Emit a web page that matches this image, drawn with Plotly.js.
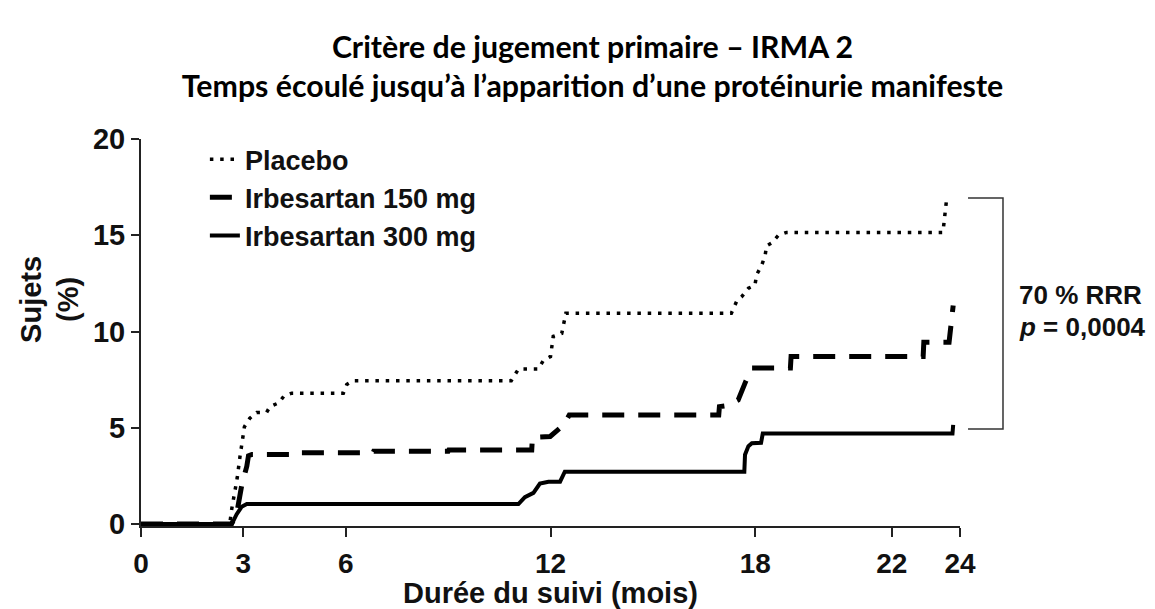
<!DOCTYPE html>
<html>
<head>
<meta charset="utf-8">
<script src="https://cdn.plot.ly/plotly-3.0.1.min.js"></script>
<style>
  html, body { margin: 0; padding: 0; background: #fff; }
  #chart { width: 1155px; height: 609px; }
</style>
</head>
<body>
<div id="chart"></div>
<script>
// ---- Data (months, % of subjects) ----
const seriesNames = ["Placebo", "Irbesartan 150 mg", "Irbesartan 300 mg"];

const placeboMonths = [0, 2.6, 2.66, 2.82, 2.9, 2.98, 3.03, 3.19, 3.39, 3.68, 3.78, 4.04, 4.19, 4.42, 5.93, 6.03, 6.22,
  10.85, 11.0, 11.06, 11.64, 11.79, 12.0, 12.03, 12.08, 12.33, 12.4, 12.45,
  17.3, 17.45, 17.6, 17.8, 17.99, 18.04, 18.19, 18.29, 18.33, 18.48, 18.68, 18.92, 23.5, 23.53, 23.6];
const placeboPct = [0, 0, 0.8, 2.4, 3.5, 4.5, 5.05, 5.5, 5.8, 5.8, 6.1, 6.3, 6.65, 6.8, 6.8, 7.25, 7.45,
  7.45, 7.9, 8.05, 8.05, 8.5, 8.7, 9.2, 9.75, 9.9, 10.45, 10.95,
  10.95, 11.55, 11.8, 12.25, 12.4, 12.95, 13.45, 13.95, 14.45, 14.6, 15.0, 15.15, 15.15, 15.7, 16.75];

const irb150Months = [0, 2.65, 2.8, 2.95, 3.1, 3.15, 3.25, 4.5, 4.52, 6.8, 6.82, 9.0, 9.02, 11.45, 11.47, 11.99, 12.38, 12.55,
  16.93, 16.95, 17.15, 17.5, 17.73, 17.9, 19.03, 19.05, 22.92, 22.94, 23.68, 23.8];
const irb150Pct = [0, 0, 0.5, 2.0, 3.0, 3.55, 3.62, 3.62, 3.7, 3.7, 3.78, 3.78, 3.85, 3.85, 4.5, 4.55, 5.14, 5.66,
  5.66, 6.1, 6.15, 6.45, 7.45, 8.1, 8.1, 8.7, 8.7, 9.45, 9.45, 11.35];

const irb300Months = [0, 2.66, 2.8, 2.95, 3.1, 11.06, 11.25, 11.5, 11.69, 11.94, 12.28, 12.42, 17.68, 17.7, 17.8, 17.9, 18.17, 18.22, 23.78, 23.8];
const irb300Pct = [0, 0, 0.5, 0.9, 1.04, 1.04, 1.4, 1.62, 2.1, 2.2, 2.2, 2.72, 2.72, 3.6, 4.05, 4.2, 4.22, 4.7, 4.7, 5.15];

const xTickVals = [0, 3, 6, 12, 18, 22, 24];
const yTickVals = [0, 5, 10, 15, 20];

const chartTitle = "Critère de jugement primaire – IRMA 2<br>Temps écoulé jusqu’à l’apparition d’une protéinurie manifeste";
const xTitle = "Durée du suivi (mois)";
const yTitle = "Sujets<br>(%)";
const statLine1 = "70 % RRR";
const statLine2 = "<i>p</i> = 0,0004";

// ---- Styling ----
const ARIAL = "Liberation Sans, Arial, sans-serif";
const TITLEFONT = "Lato, Carlito, Calibri, sans-serif";

const traces = [
  { x: placeboMonths, y: placeboPct, name: seriesNames[0], mode: "lines",
    line: { color: "#000", width: 3.5, dash: "3.5px,6.8px" } },
  { x: irb150Months, y: irb150Pct, name: seriesNames[1], mode: "lines",
    line: { color: "#000", width: 5, dash: "22px,14px" } },
  { x: irb300Months, y: irb300Pct, name: seriesNames[2], mode: "lines",
    line: { color: "#000", width: 4 } }
];

const layout = {
  width: 1155, height: 609,
  margin: { l: 141, r: 195, t: 139, b: 83 },
  paper_bgcolor: "#fff", plot_bgcolor: "#fff",
  showlegend: true,
  title: {
    text: chartTitle,
    font: { family: TITLEFONT, size: 30.3, color: "#000", weight: "bold" },
    xref: "container", x: 0.513, xanchor: "center",
    yref: "container", y: 0.905, yanchor: "top"
  },
  xaxis: {
    range: [0, 24], tickmode: "array", tickvals: xTickVals, ticktext: xTickVals.map(String),
    showline: true, linecolor: "#222", linewidth: 2,
    ticks: "outside", ticklen: 9, tickwidth: 2, tickcolor: "#222",
    showgrid: false, zeroline: false,
    tickfont: { family: ARIAL, size: 28, color: "#111", weight: "bold" },
    ticklabelstandoff: 2,
    title: { text: xTitle, font: { family: ARIAL, size: 29, color: "#111", weight: "bold" }, standoff: 0 }
  },
  yaxis: {
    range: [-0.1, 20], tickmode: "array", tickvals: yTickVals, ticktext: yTickVals.map(String),
    showline: true, linecolor: "#222", linewidth: 2,
    ticks: "outside", ticklen: 8, tickwidth: 2, tickcolor: "#222",
    showgrid: false, zeroline: false,
    tickfont: { family: ARIAL, size: 29, color: "#111", weight: "bold" }
  },
  legend: {
    x: 0.078, xanchor: "left", y: 1.01, yanchor: "top",
    bgcolor: "rgba(0,0,0,0)", borderwidth: 0,
    font: { family: ARIAL, size: 27, color: "#111", weight: "bold" },
    traceorder: "normal"
  },
  shapes: [
    { type: "path", xref: "paper", yref: "paper",
      path: "M 1.0098 0.8475 L 1.0525 0.8475 L 1.0525 0.2506 L 1.0098 0.2506",
      line: { color: "#333", width: 1.5 } }
  ],
  annotations: [
    { text: yTitle, xref: "paper", yref: "paper", x: -0.112, y: 0.585,
      xanchor: "center", yanchor: "middle", textangle: -90, showarrow: false,
      font: { family: ARIAL, size: 29, color: "#111", weight: "bold" } },
    { text: statLine1, xref: "paper", yref: "paper", x: 1.0696, y: 0.597,
      xanchor: "left", yanchor: "middle", showarrow: false,
      font: { family: ARIAL, size: 26, color: "#111", weight: "bold" } },
    { text: statLine2, xref: "paper", yref: "paper", x: 1.0696, y: 0.514,
      xanchor: "left", yanchor: "middle", showarrow: false,
      font: { family: ARIAL, size: 26, color: "#111", weight: "bold" } }
  ]
};

Plotly.newPlot("chart", traces, layout, { displayModeBar: false, staticPlot: true });
</script>
</body>
</html>
